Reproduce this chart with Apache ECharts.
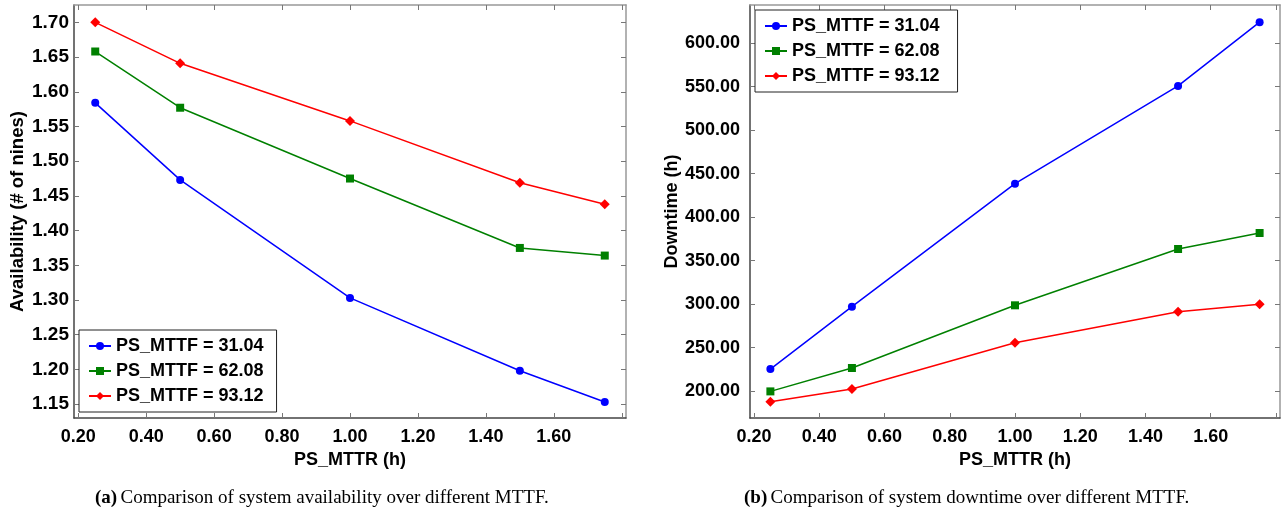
<!DOCTYPE html>
<html>
<head>
<meta charset="utf-8">
<script src="https://cdn.jsdelivr.net/npm/echarts@6/dist/echarts.min.js"></script>
<style>
html,body{margin:0;padding:0;background:#fff;}
#c{width:1282px;height:513px;}
</style>
</head>
<body>
<div id="c"></div>
<script>
const mttr = [0.25, 0.5, 1.0, 1.5, 1.75];
const seriesNames = ['PS_MTTF = 31.04', 'PS_MTTF = 62.08', 'PS_MTTF = 93.12'];
const availability31 = [1.584, 1.473, 1.303, 1.198, 1.153];
const availability62 = [1.658, 1.577, 1.475, 1.375, 1.364];
const availability93 = [1.700, 1.641, 1.558, 1.469, 1.438];
const downtime31 = [225.3, 297.0, 438.5, 550.9, 624.2];
const downtime62 = [199.6, 226.5, 298.6, 363.4, 381.8];
const downtime93 = [187.7, 202.3, 255.6, 291.3, 299.7];
const xTickLabels = [0.2, 0.4, 0.6, 0.8, 1.0, 1.2, 1.4, 1.6];
const xTicks = [0.2, 0.4, 0.6, 0.8, 1.0, 1.2, 1.4, 1.6, 1.8];
const availTicks = [1.15, 1.20, 1.25, 1.30, 1.35, 1.40, 1.45, 1.50, 1.55, 1.60, 1.65, 1.70];
const downTicks = [200, 250, 300, 350, 400, 450, 500, 550, 600];
const captionA = 'Comparison of system availability over different MTTF.';
const captionB = 'Comparison of system downtime over different MTTF.';

const colors = ['#0000ff', '#008000', '#ff0000'];
const symbols = ['circle', 'rect', 'diamond'];
const symbolSizes = [8, 8, 10];
const FONT = 'Liberation Sans, Arial, sans-serif';
const SERIF = 'Liberation Serif, Times New Roman, serif';

function zip(xs, ys){ return xs.map((x,i)=>[x, ys[i]]); }

function mainX(gi, name){
  return {
    gridIndex: gi, type: 'value', min: 0.1875, max: 1.8125, position: 'bottom',
    name: name, nameLocation: 'middle', nameGap: 31,
    nameTextStyle: {fontFamily: FONT, fontWeight: 'bold', fontSize: 18, color: '#000'},
    axisLine: {show: true, lineStyle: {color: '#444', width: 1.5}},
    axisTick: {show: true, inside: true, length: 5, lineStyle: {color: '#777'}, customValues: xTicks},
    axisLabel: {show: true, margin: 10, fontFamily: FONT, fontWeight: 'bold', fontSize: 18, color: '#000',
      customValues: xTickLabels, formatter: v => v.toFixed(2)},
    splitLine: {show: false}
  };
}
function topX(gi){
  return {
    gridIndex: gi, type: 'value', min: 0.1875, max: 1.8125, position: 'top',
    axisLine: {show: true, lineStyle: {color: '#999', width: 1.5}},
    axisTick: {show: true, inside: true, length: 5, lineStyle: {color: '#777'}, customValues: xTicks},
    axisLabel: {show: false}, splitLine: {show: false}
  };
}
function mainY(gi, name, min, max, ticks, margin, nameGap, labelSize, nameSize){
  return {
    gridIndex: gi, type: 'value', min: min, max: max, position: 'left',
    name: name, nameLocation: 'middle', nameGap: nameGap, nameRotate: 90,
    nameTextStyle: {fontFamily: FONT, fontWeight: 'bold', fontSize: nameSize, color: '#000'},
    axisLine: {show: true, lineStyle: {color: '#444', width: 1.5}},
    axisTick: {show: true, inside: true, length: 5, lineStyle: {color: '#777'}, customValues: ticks},
    axisLabel: {show: true, margin: margin, fontFamily: FONT, fontWeight: 'bold', fontSize: labelSize, color: '#000',
      customValues: ticks, formatter: v => v.toFixed(2)},
    splitLine: {show: false}
  };
}
function rightY(gi, min, max, ticks){
  return {
    gridIndex: gi, type: 'value', min: min, max: max, position: 'right',
    axisLine: {show: true, lineStyle: {color: '#999', width: 1.5}},
    axisTick: {show: true, inside: true, length: 5, lineStyle: {color: '#777'}, customValues: ticks},
    axisLabel: {show: false}, splitLine: {show: false}
  };
}
function mkSeries(name, i, data, xi, yi){
  return {
    name: name, type: 'line', xAxisIndex: xi, yAxisIndex: yi, data: data,
    symbol: symbols[i], symbolSize: symbolSizes[i], showSymbol: true,
    lineStyle: {color: colors[i], width: 1.5}, itemStyle: {color: colors[i]},
    animation: false, z: 3 + i
  };
}
function legend(id, left, top, data){
  return {
    id: id, orient: 'vertical', left: left, top: top, data: data,
    backgroundColor: '#fff', borderColor: '#222', borderWidth: 1,
    padding: [7, 8, 7, 9], itemGap: 7, itemWidth: 22, itemHeight: 10,
    textStyle: {fontFamily: FONT, fontWeight: 'bold', fontSize: 18, color: '#000', lineHeight: 18, padding: [0,0,0,0]},
    selectedMode: false, z: 10
  };
}
function caption(left, tag, text){
  return {type: 'text', left: left, top: 489, style: {
    rich: {b: {fontFamily: SERIF, fontWeight: 'bold', fontSize: 19, fill: '#000'},
           n: {fontFamily: SERIF, fontSize: 19, fill: '#000'}},
    text: '{b|' + tag + '} {n|' + text + '}'}};
}

const chart = echarts.init(document.getElementById('c'), null, {renderer: 'canvas'});
const legA = seriesNames.map(n => n + ' ');
const legB = seriesNames.map(n => n + '  ');
chart.setOption({
  animation: false,
  backgroundColor: '#fff',
  grid: [
    {left: 74, top: 5, width: 552, height: 413},
    {left: 750, top: 5, width: 530, height: 413}
  ],
  xAxis: [mainX(0, 'PS_MTTR (h)'), topX(0), mainX(1, 'PS_MTTR (h)'), topX(1)],
  yAxis: [
    mainY(0, 'Availability (# of nines)', 1.13, 1.725, availTicks, 5, 47, 19, 18.5),
    rightY(0, 1.13, 1.725, availTicks),
    mainY(1, 'Downtime (h)', 169, 644, downTicks, 10, 68, 18, 18),
    rightY(1, 169, 644, downTicks)
  ],
  legend: [
    legend('la', 79, 330, legA),
    legend('lb', 755, 10, legB)
  ],
  series: [
    mkSeries(legA[0], 0, zip(mttr, availability31), 0, 0),
    mkSeries(legA[1], 1, zip(mttr, availability62), 0, 0),
    mkSeries(legA[2], 2, zip(mttr, availability93), 0, 0),
    mkSeries(legB[0], 0, zip(mttr, downtime31), 2, 2),
    mkSeries(legB[1], 1, zip(mttr, downtime62), 2, 2),
    mkSeries(legB[2], 2, zip(mttr, downtime93), 2, 2)
  ],
  graphic: [
    caption(95, '(a)', captionA),
    caption(744, '(b)', captionB)
  ]
});
</script>
</body>
</html>
